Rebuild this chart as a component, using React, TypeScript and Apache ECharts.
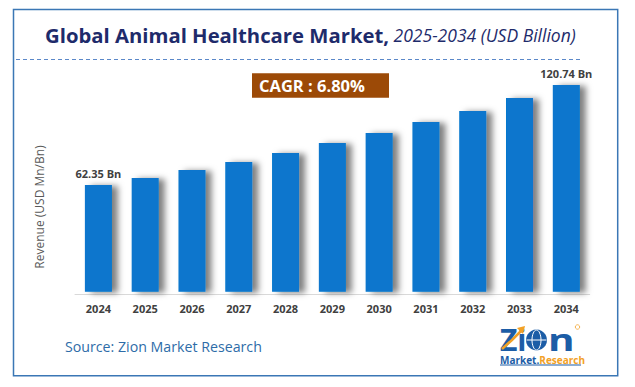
import React, { useEffect, useRef } from "react";
import * as echarts from "echarts";

const years = ["2024", "2025", "2026", "2027", "2028", "2029", "2030", "2031", "2032", "2033", "2034"];
const revenue = [62.35, 66.5, 71.1, 75.8, 81.1, 86.9, 92.8, 99.2, 105.6, 113.2, 120.74];
const labeledIndexes = [0, 10];
const titleMain = "Global Animal Healthcare Market,";
const titleSub = " 2025-2034 (USD Billion)";
const cagrText = "CAGR : 6.80%";
const yAxisName = "Revenue (USD Mn/Bn)";
const sourceText = "Source: Zion Market Research";

const FONT = "'Open Sans', 'Noto Sans', sans-serif";

export default function App() {
  const ref = useRef<HTMLDivElement>(null);
  useEffect(() => {
    document.body.style.margin = "0";
    if (!ref.current) return;
    const chart = echarts.init(ref.current, null, { renderer: "svg" });
    chart.setOption({
      animation: false,
      backgroundColor: "#ffffff",
      grid: { left: 75, right: 45.3, top: 52.1, bottom: 92.7, outerBoundsMode: "none" },
      xAxis: {
        type: "category",
        data: years,
        axisLine: { show: true, onZero: false, lineStyle: { color: "#D9D9D9", width: 1 } },
        axisTick: { show: false },
        axisLabel: { color: "#404040", fontWeight: "bold", fontSize: 11, fontFamily: FONT, margin: 9 },
      },
      yAxis: { type: "value", min: -1.5, max: 140, show: false, splitLine: { show: false } },
      series: [
        {
          type: "bar",
          barWidth: 27,
          data: revenue.map((v, i) => ({ value: v, label: { show: labeledIndexes.includes(i) } })),
          itemStyle: {
            color: "#0776CD",
            shadowColor: "rgba(0,0,0,0.5)",
            shadowBlur: 6,
            shadowOffsetX: 6,
            shadowOffsetY: 1,
          },
          label: {
            position: "top",
            distance: 6.5,
            formatter: "{c} Bn",
            color: "#404040",
            fontWeight: "bold",
            fontSize: 11,
            fontFamily: FONT,
          },
        },
      ],
      graphic: [
        {
          type: "rect",
          shape: { x: 13.5, y: 9.5, width: 604.2, height: 366.2 },
          style: { fill: "none", stroke: "#3B77B5", lineWidth: 1.5 },
          silent: true,
        },
        {
          type: "text",
          x: 45,
          y: 35.2,
          style: {
            text: `{b|${titleMain}}{i|${titleSub}}`,
            verticalAlign: "middle",
            align: "left",
            rich: {
              b: { fontFamily: FONT, fontWeight: "bold", fontSize: 20.3, fill: "#1E2B6B", color: "#1E2B6B" },
              i: { fontFamily: FONT, fontStyle: "italic", fontWeight: "normal", fontSize: 17.5, fill: "#1E2B6B", color: "#1E2B6B" },
            },
          },
        },
        {
          type: "line",
          shape: { x1: 16, y1: 59.5, x2: 583, y2: 59.5 },
          style: { stroke: "#5B88C9", lineWidth: 1, lineDash: [4, 3] },
        },
        {
          type: "rect",
          shape: { x: 252, y: 73.3, width: 137, height: 24.4 },
          style: { fill: "#9C4A07" },
        },
        {
          type: "text",
          x: 259,
          y: 85.5,
          style: { text: cagrText, fill: "#ffffff", fontFamily: FONT, fontWeight: "bold", fontSize: 16.5, verticalAlign: "middle", align: "left" },
        },
        {
          type: "text",
          x: 39.5,
          y: 207,
          rotation: Math.PI / 2,
          style: { text: yAxisName, fill: "#595959", fontFamily: FONT, fontSize: 12, verticalAlign: "middle", align: "center" },
        },
        {
          type: "text",
          x: 65,
          y: 346.7,
          style: { text: sourceText, fill: "#2E6CA8", fontFamily: FONT, fontSize: 14.2, verticalAlign: "middle", align: "left" },
        },
        // Logo
        {
          type: "text",
          x: 500,
          y: 339.5,
          style: { text: "Zi", fill: "#1C5DA6", fontFamily: FONT, fontWeight: "bold", fontSize: 30, lineHeight: 22, verticalAlign: "middle", align: "left" },
        },
        {
          type: "circle",
          shape: { cx: 536.5, cy: 340, r: 10.5 },
          style: { fill: "#1C5DA6" },
        },
        {
          type: "ellipse",
          shape: { cx: 536.5, cy: 340, rx: 4.5, ry: 10 },
          style: { fill: "none", stroke: "#ffffff", lineWidth: 1 },
        },
        {
          type: "line",
          shape: { x1: 526.5, y1: 340, x2: 546.5, y2: 340 },
          style: { stroke: "#ffffff", lineWidth: 1 },
        },
        {
          type: "text",
          x: 548,
          y: 339.5,
          scaleX: 1.35,
          style: { text: "n", fill: "#1C5DA6", fontFamily: FONT, fontWeight: "bold", fontSize: 30, lineHeight: 22, verticalAlign: "middle", align: "left" },
        },
        {
          type: "polyline",
          shape: { points: [[502, 349], [512, 340], [521, 331]] },
          style: { stroke: "#F2A126", lineWidth: 2.5, fill: "none" },
        },
        {
          type: "polygon",
          shape: { points: [[517, 328], [525, 326], [523, 334]] },
          style: { fill: "#F2A126" },
        },
        {
          type: "circle",
          shape: { cx: 577.5, cy: 327, r: 2.2 },
          style: { fill: "none", stroke: "#F2A126", lineWidth: 0.8 },
        },
        {
          type: "text",
          x: 500,
          y: 359.5,
          style: {
            text: "{m|Market}{d|.}{r|Research}",
            verticalAlign: "middle",
            align: "left",
            rich: {
              m: { fontFamily: FONT, fontWeight: "bold", fontSize: 10, lineHeight: 10, fill: "#1C5DA6", color: "#1C5DA6" },
              d: { fontFamily: FONT, fontWeight: "bold", fontSize: 10, lineHeight: 10, fill: "#1C5DA6", color: "#1C5DA6" },
              r: { fontFamily: FONT, fontWeight: "bold", fontSize: 10, lineHeight: 10, fill: "#F2A126", color: "#F2A126" },
            },
          },
        },
        {
          type: "line",
          shape: { x1: 500, y1: 365, x2: 581, y2: 365 },
          style: { stroke: "#1C5DA6", lineWidth: 1 },
        },
      ],
    });
    return () => chart.dispose();
  }, []);
  return <div ref={ref} style={{ width: 635, height: 387 }} />;
}
